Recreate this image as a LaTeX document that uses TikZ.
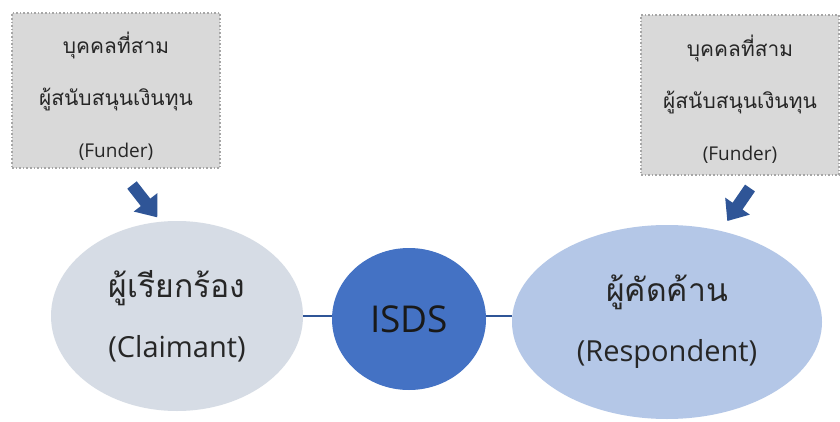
\documentclass[tikz,border=0pt]{standalone}
\usepackage{fontspec}
\setmainfont{Open Sans}
\newfontfamily\thai[Script=Thai,Scale=1.1]{Loma}
\usetikzlibrary{shapes.geometric}
\definecolor{boxgray}{HTML}{D9D9D9}
\definecolor{boxline}{HTML}{A6A6A6}
\definecolor{claimfill}{HTML}{D6DCE5}
\definecolor{isdsfill}{HTML}{4472C4}
\definecolor{respfill}{HTML}{B4C7E7}
\definecolor{darkblue}{HTML}{2F5597}
\tikzset{
  funderbox/.style={draw=boxline, dotted, line width=1.6pt, fill=boxgray, inner sep=0pt},
  boxtext/.style={align=center, inner sep=0pt, font=\fontsize{19}{52}\selectfont, text=black!85},
  party/.style={ellipse, inner sep=0pt, align=center, font=\fontsize{29}{60}\selectfont, text=black!85},
  link/.style={draw=darkblue, line width=1.6pt},
  blockarrow/.style={fill=darkblue, draw=none}
}
\begin{document}
\begin{tikzpicture}[x=1pt,y=1pt]
\useasboundingbox (0,0) rectangle (840,421);
\fill[white] (0,0) rectangle (840,421);
% funder boxes
\node[funderbox, minimum width=208pt, minimum height=155pt] (fl) at (116,330.5) {};
\node[boxtext] (flt) at ([yshift=-6pt]fl.center)
  {{\thai บุคคลที่สาม}\\{\thai ผู้สนับสนุนเงินทุน}\\(Funder)};
\node[funderbox, minimum width=198pt, minimum height=160pt] (fr) at (740,326) {};
\node[boxtext] (frt) at ([yshift=-4pt]fr.center)
  {{\thai บุคคลที่สาม}\\{\thai ผู้สนับสนุนเงินทุน}\\(Funder)};
% parties
\node[party, fill=claimfill, minimum width=252pt, minimum height=190pt] (cl) at (177,105)
  {{\thai ผู้เรียกร้อง}\\(Claimant)};
\node[party, fill=isdsfill, minimum width=154pt, minimum height=142pt, font=\fontsize{37}{40}\selectfont, text=black!90] (is) at (409,102) {ISDS};
\node[party, fill=respfill, minimum width=310pt, minimum height=194pt] (rs) at (667,99)
  {{\thai ผู้คัดค้าน}\\(Respondent)};
% links
\draw[link] (cl.east) -- (cl.east -| is.west);
\draw[link] (is.east |- cl.east) -- (cl.east -| rs.west);
% block arrows
\coordinate (la) at (132,236);
\coordinate (ra) at (750,233);
\begin{scope}[shift={(la)}, rotate=-52]
  \fill[blockarrow] (0,6) -- (22,6) -- (22,15) -- (41,0) -- (22,-15) -- (22,-6) -- (0,-6) -- cycle;
\end{scope}
\begin{scope}[shift={(ra)}, rotate=-124.5]
  \fill[blockarrow] (0,6) -- (22,6) -- (22,15) -- (40,0) -- (22,-15) -- (22,-6) -- (0,-6) -- cycle;
\end{scope}
\end{tikzpicture}
\end{document}
